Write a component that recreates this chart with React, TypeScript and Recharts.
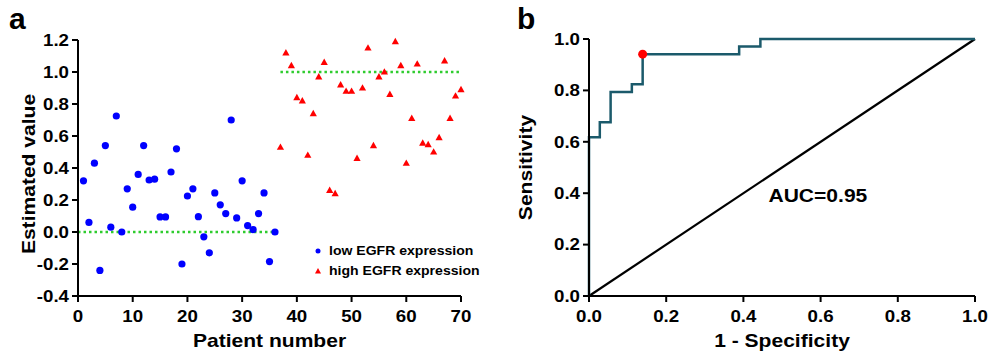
import React from 'react';
import {
  ScatterChart,
  Scatter,
  LineChart,
  Line,
  XAxis,
  YAxis,
  ReferenceLine,
  ReferenceDot,
} from 'recharts';

// panel a: estimated value per patient
const lowPatients = [1, 2, 3, 4, 5, 6, 7, 8, 9, 10, 11, 12, 13, 14, 15, 16, 17, 18, 19, 20, 21, 22, 23, 24, 25, 26, 27, 28, 29, 30, 31, 32, 33, 34, 35, 36];
const lowValues = [0.32, 0.06, 0.43, -0.24, 0.54, 0.03, 0.725, 0.0, 0.27, 0.155, 0.36, 0.54, 0.325, 0.33, 0.094, 0.094, 0.375, 0.52, -0.2, 0.225, 0.27, 0.096, -0.03, -0.13, 0.244, 0.17, 0.115, 0.7, 0.088, 0.32, 0.04, 0.015, 0.115, 0.244, -0.185, 0.0];
const highPatients = [37, 38, 39, 40, 41, 42, 43, 44, 45, 46, 47, 48, 49, 50, 51, 52, 53, 54, 55, 56, 57, 58, 59, 60, 61, 62, 63, 64, 65, 66, 67, 68, 69, 70];
const highValues = [0.53, 1.12, 1.04, 0.84, 0.82, 0.48, 0.74, 0.97, 1.06, 0.26, 0.24, 0.92, 0.88, 0.88, 0.46, 0.9, 1.15, 0.54, 0.97, 1.0, 0.86, 1.19, 1.04, 0.43, 0.71, 1.05, 0.556, 0.546, 0.5, 0.59, 1.07, 0.71, 0.85, 0.89];
const patientTicks = [0, 10, 20, 30, 40, 50, 60, 70];
const valueTicks = [-0.4, -0.2, 0, 0.2, 0.4, 0.6, 0.8, 1.0, 1.2];

// panel b: ROC curve
const fpr = [0, 0, 0.028, 0.028, 0.056, 0.056, 0.111, 0.111, 0.139, 0.139, 0.389, 0.389, 0.444, 0.444, 1];
const tpr = [0, 0.618, 0.618, 0.676, 0.676, 0.794, 0.794, 0.824, 0.824, 0.941, 0.941, 0.971, 0.971, 1, 1];
const rocTicks = [0, 0.2, 0.4, 0.6, 0.8, 1.0];
const cutoff = { fpr: 0.139, tpr: 0.941 };

const lowData = lowPatients.map((p, i) => ({ x: p, y: lowValues[i] }));
const highData = highPatients.map((p, i) => ({ x: p, y: highValues[i] }));
const rocData = fpr.map((f, i) => ({ fpr: f, tpr: tpr[i] }));

const FONT = '"Liberation Sans", Arial, sans-serif';
const SX = 1.17; // the figure's font is wider than Liberation Sans
const axisLine = { stroke: '#000', strokeWidth: 2 };
const GREEN = '#2ecc2e';
const ROC = '#1b5a6b';

// bold text, widened along its own reading direction
const WideText = ({ x, y, angle = 0, size, anchor = 'middle', dy = 0, children }: any) => (
  <text
    transform={`translate(${x},${y}) rotate(${angle}) scale(${SX},1)`}
    textAnchor={anchor}
    dy={dy}
    fontFamily={FONT}
    fontWeight={700}
    fontSize={size}
    fill="#000"
  >
    {children}
  </text>
);

const fmt1 = (v: number) => v.toFixed(1);

const XTick = ({ x, y, payload, fmt }: any) => (
  <WideText x={x} y={y + 18} size={16}>{fmt ? fmt(payload.value) : payload.value}</WideText>
);
const YTick = ({ x, y, payload }: any) => (
  <WideText x={x - 1} y={y + 5.7} size={16} anchor="end">{fmt1(payload.value)}</WideText>
);

const XTitle = (text: string) => (p: any) => {
  const vb = p.viewBox;
  return <WideText x={vb.x + vb.width / 2} y={347} size={18}>{text}</WideText>;
};
const YTitle = (text: string, cx: number, shift: number) => (p: any) => {
  const vb = p.viewBox;
  return <WideText x={cx} y={vb.y + vb.height / 2 + shift} angle={-90} size={18} dy={6.5}>{text}</WideText>;
};

const Dot = (props: any) => <circle cx={props.cx} cy={props.cy} r={3.6} fill="#0000ff" />;
const Tri = (props: any) => {
  const { cx, cy } = props;
  return <polygon points={`${cx},${cy - 3.8} ${cx + 3.6},${cy + 2.6} ${cx - 3.6},${cy + 2.6}`} fill="#ff0000" />;
};

const legendText = { fontFamily: FONT, fontWeight: 700, fontSize: 12, color: '#000', transform: `scaleX(${SX})`, transformOrigin: 'left center', whiteSpace: 'nowrap' as const };

const LegendBox = () => (
  <div style={{ position: 'absolute', left: 313, top: 241, lineHeight: '20px' }}>
    <div style={{ display: 'flex', alignItems: 'center' }}>
      <svg width={10} height={10} style={{ marginRight: 6 }}>
        <circle cx={5} cy={5} r={2.5} fill="#0000ff" />
      </svg>
      <span style={legendText}>low EGFR expression</span>
    </div>
    <div style={{ display: 'flex', alignItems: 'center' }}>
      <svg width={10} height={10} style={{ marginRight: 6 }}>
        <polygon points="5,2 8,7.5 2,7.5" fill="#ff0000" />
      </svg>
      <span style={legendText}>high EGFR expression</span>
    </div>
  </div>
);

const panelLetter = (left: number, letter: string) => (
  <div style={{ position: 'absolute', left, top: 2, fontFamily: FONT, fontWeight: 700, fontSize: 30, lineHeight: '34px' }}>
    {letter}
  </div>
);

export default function App() {
  return (
    <div style={{ position: 'absolute', left: 0, top: 0, width: 991, height: 354, background: '#fff' }}>
      <div style={{ position: 'absolute', left: 0, top: 0 }}>
        <ScatterChart width={495} height={354} margin={{ top: 40, right: 34, bottom: 8, left: 28 }}>
          <XAxis
            type="number"
            dataKey="x"
            domain={[0, 70]}
            ticks={patientTicks}
            height={50}
            tick={<XTick />}
            tickSize={6}
            axisLine={axisLine}
            tickLine={axisLine}
            label={{ content: XTitle('Patient number') }}
          />
          <YAxis
            type="number"
            dataKey="y"
            domain={[-0.4, 1.2]}
            ticks={valueTicks}
            width={50}
            tick={<YTick />}
            tickSize={6}
            axisLine={axisLine}
            tickLine={axisLine}
            label={{ content: YTitle('Estimated value', 28, 6) }}
          />
          <ReferenceLine segment={[{ x: 0, y: 0 }, { x: 36, y: 0 }]} stroke={GREEN} strokeWidth={2.5} strokeDasharray="2.5 3" />
          <ReferenceLine segment={[{ x: 37, y: 1 }, { x: 70, y: 1 }]} stroke={GREEN} strokeWidth={2.5} strokeDasharray="2.5 3" />
          <Scatter name="low EGFR expression" data={lowData} shape={<Dot />} isAnimationActive={false} />
          <Scatter name="high EGFR expression" data={highData} shape={<Tri />} isAnimationActive={false} />
        </ScatterChart>
        <LegendBox />
      </div>
      <div style={{ position: 'absolute', left: 495, top: 0 }}>
        <LineChart width={496} height={354} data={rocData} margin={{ top: 39, right: 16, bottom: 8, left: 30 }}>
          <XAxis
            type="number"
            dataKey="fpr"
            domain={[0, 1]}
            ticks={rocTicks}
            height={50}
            tick={<XTick fmt={fmt1} />}
            tickSize={6}
            axisLine={axisLine}
            tickLine={axisLine}
            label={{ content: XTitle('1 - Specificity') }}
          />
          <YAxis
            type="number"
            domain={[0, 1]}
            ticks={rocTicks}
            width={64}
            tick={<YTick />}
            tickSize={6}
            axisLine={axisLine}
            tickLine={axisLine}
            label={{ content: YTitle('Sensitivity', 30, 0) }}
          />
          <ReferenceLine segment={[{ x: 0, y: 0 }, { x: 1, y: 1 }]} stroke="#000" strokeWidth={2.2} />
          <Line type="linear" dataKey="tpr" stroke={ROC} strokeWidth={2.5} dot={false} isAnimationActive={false} />
          <ReferenceDot x={cutoff.fpr} y={cutoff.tpr} r={4.5} fill="#ff0000" stroke="none" />
          <ReferenceDot
            x={0.593}
            y={0.392}
            r={0}
            stroke="none"
            label={{ content: (p: any) => <WideText x={p.viewBox.x + p.viewBox.width / 2} y={p.viewBox.y + p.viewBox.height / 2 + 6.5} size={18}>AUC=0.95</WideText> }}
          />
        </LineChart>
      </div>
      {panelLetter(9, 'a')}
      {panelLetter(517, 'b')}
    </div>
  );
}
